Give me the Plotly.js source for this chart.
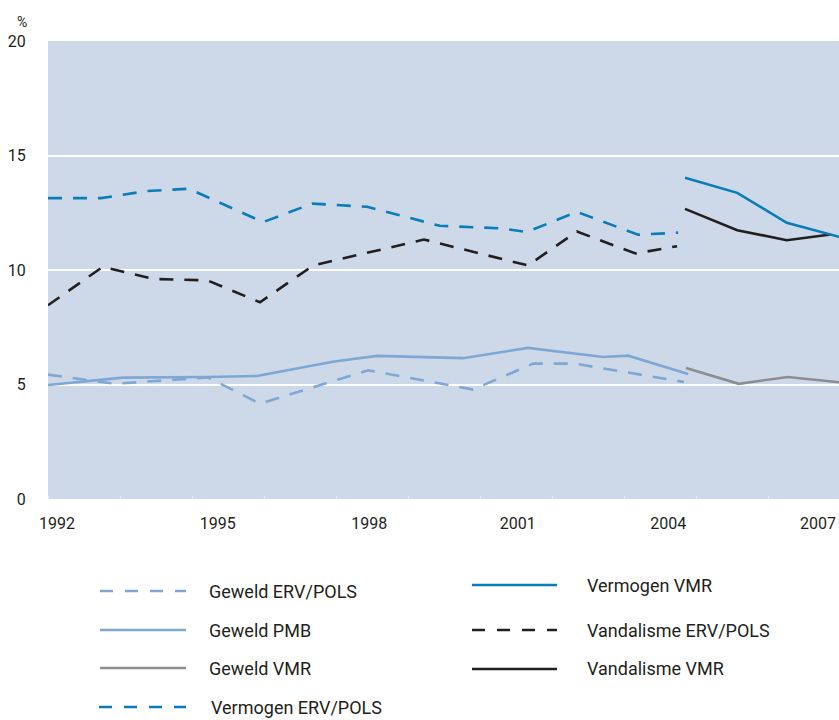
<!DOCTYPE html>
<html><head><meta charset="utf-8">
<script src="https://cdn.plot.ly/plotly-3.0.1.min.js"></script>
<style>html,body{margin:0;padding:0;background:#fff}#chart{width:839px;height:720px}</style>
</head><body><div id="chart"></div>
<script>
// ---- data ----
const seriesNames = ['Geweld ERV/POLS','Geweld PMB','Geweld VMR','Vermogen ERV/POLS','Vermogen VMR','Vandalisme ERV/POLS','Vandalisme VMR'];

const gewErvX = [1992.0,1993.27,1995.03,1996.02,1998.07,2000.06,2001.20,2001.99,2004.06];
const gewErvY = [5.43,5.03,5.31,4.16,5.62,4.78,5.91,5.91,5.11];

const gewPmbX = [1992.0,1993.42,1995.02,1995.96,1997.40,1998.24,1999.87,2001.10,2002.53,2003.00,2004.14];
const gewPmbY = [4.98,5.30,5.33,5.37,5.99,6.25,6.15,6.60,6.20,6.26,5.46];

const gewVmrX = [2004.10,2005.10,2006.03,2007.0];
const gewVmrY = [5.72,5.03,5.33,5.10];

const verErvX = [1992.0,1993.01,1993.88,1994.67,1996.08,1997.01,1998.05,1999.43,2000.57,2001.08,2002.03,2003.19,2003.95];
const verErvY = [13.14,13.14,13.45,13.55,12.09,12.90,12.76,11.93,11.82,11.66,12.54,11.54,11.63];

const verVmrX = [2004.08,2005.07,2006.01,2007.0];
const verVmrY = [14.03,13.37,12.06,11.45];

const vanErvX = [1992.0,1993.04,1993.99,1995.02,1996.02,1997.03,1999.13,2001.10,2002.03,2003.14,2003.93];
const vanErvY = [8.46,10.14,9.61,9.55,8.59,10.20,11.33,10.20,11.68,10.72,11.04];

const vanVmrX = [2004.08,2005.07,2006.01,2006.84];
const vanVmrY = [12.67,11.74,11.30,11.55];

const xTickVals = [1992.17,1995.22,1998.09,2000.91,2003.76,2006.60];
const xTickText = ['1992','1995','1998','2001','2004','2007'];
const yTickVals = [0,5,10,15,20];
const yTickText = ['0','5','10','15','20'];

// ---- styles ----
const cLight = '#7fa7d4', cGrey = '#8d8d8f', cBlue = '#0a7cba', cBlack = '#231f20';
const dashA = '14px,11px';
const styles = {
  'Geweld ERV/POLS':     {color:cLight, dash:dashA},
  'Geweld PMB':          {color:cLight, dash:'solid'},
  'Geweld VMR':          {color:cGrey,  dash:'solid'},
  'Vermogen ERV/POLS':   {color:cBlue,  dash:dashA},
  'Vermogen VMR':        {color:cBlue,  dash:'solid'},
  'Vandalisme ERV/POLS': {color:cBlack, dash:dashA},
  'Vandalisme VMR':      {color:cBlack, dash:'solid'}
};
const dataXY = {
  'Geweld ERV/POLS':[gewErvX,gewErvY],
  'Geweld PMB':[gewPmbX,gewPmbY],
  'Geweld VMR':[gewVmrX,gewVmrY],
  'Vermogen ERV/POLS':[verErvX,verErvY],
  'Vermogen VMR':[verVmrX,verVmrY],
  'Vandalisme ERV/POLS':[vanErvX,vanErvY],
  'Vandalisme VMR':[vanVmrX,vanVmrY]
};
const drawOrder = ['Geweld PMB','Geweld ERV/POLS','Geweld VMR','Vandalisme ERV/POLS','Vermogen ERV/POLS','Vandalisme VMR','Vermogen VMR'];
const traces = drawOrder.map(n => ({
  type:'scatter', mode:'lines', name:n,
  x:dataXY[n][0], y:dataXY[n][1],
  line:{color:styles[n].color, dash:styles[n].dash, width:2.6},
  showlegend:false, hoverinfo:'x+y+name'
}));

// ---- manual legend (pixel layout of the reference) ----
const W = 839, H = 720, L = 48, R = 839, T = 41, B = 499;
const px = x => (x - L) / (R - L);
const py = y => (B - y) / (B - T);
const legendSlots = [
  {n:'Geweld ERV/POLS',     x0:100, x1:186, tx:207, y:591},
  {n:'Geweld PMB',          x0:100, x1:186, tx:207, y:630},
  {n:'Geweld VMR',          x0:100, x1:186, tx:207, y:668},
  {n:'Vermogen ERV/POLS',   x0:99,  x1:186, tx:209, y:707},
  {n:'Vermogen VMR',        x0:472, x1:557, tx:585, y:585},
  {n:'Vandalisme ERV/POLS', x0:472, x1:557, tx:585, y:630},
  {n:'Vandalisme VMR',      x0:472, x1:557, tx:585, y:669}
];
const shapes = legendSlots.map(s => ({
  type:'line', xref:'paper', yref:'paper',
  x0:px(s.x0), x1:px(s.x1), y0:py(s.y), y1:py(s.y),
  line:{color:styles[s.n].color, width:2.6, dash:styles[s.n].dash === 'solid' ? 'solid' : '13px,12px'}
}));
const annotations = legendSlots.map(s => ({
  xref:'paper', yref:'paper', x:px(s.tx), y:py(s.y), xanchor:'left', yanchor:'middle',
  text:s.n, showarrow:false, font:{family:'Roboto, sans-serif', size:18, color:cBlack}
}));
annotations.push({xref:'paper', yref:'paper', x:px(22), y:py(22), xanchor:'center', yanchor:'middle',
  text:'%', showarrow:false, font:{family:'Roboto, sans-serif', size:14, color:cBlack}});

const layout = {
  width:W, height:H,
  margin:{l:L, r:W-R, t:T, b:H-B, pad:0},
  paper_bgcolor:'#ffffff', plot_bgcolor:'#cdd9e9',
  font:{family:'Roboto, sans-serif', color:cBlack, size:16},
  showlegend:false,
  xaxis:{range:[1992,2007], showgrid:false, zeroline:false, showline:false,
    tickmode:'array', tickvals:xTickVals, ticktext:xTickText,
    ticks:'outside', ticklen:10, tickcolor:'rgba(0,0,0,0)',
    tickfont:{size:16, color:cBlack},
    minor:{tickmode:'linear', tick0:1992, dtick:1.3655, ticks:'inside', ticklen:3, tickwidth:1, tickcolor:'rgba(255,255,255,0.6)', showgrid:false},
    fixedrange:true},
  yaxis:{range:[0,20], tickmode:'array', tickvals:yTickVals, ticktext:yTickText,
    showgrid:true, gridcolor:'#ffffff', gridwidth:2, zeroline:false, showline:false,
    ticks:'outside', ticklen:18, tickcolor:'rgba(0,0,0,0)',
    tickfont:{size:16, color:cBlack}, fixedrange:true},
  shapes:shapes, annotations:annotations
};
Plotly.newPlot('chart', traces, layout, {displayModeBar:false, staticPlot:true});
</script>
</body></html>
